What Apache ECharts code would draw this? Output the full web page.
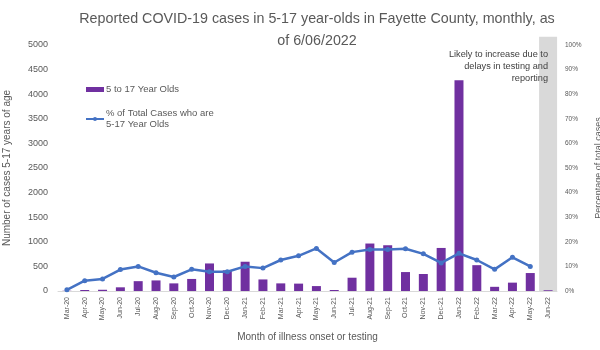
<!DOCTYPE html>
<html>
<head>
<meta charset="utf-8">
<script src="https://cdn.jsdelivr.net/npm/echarts@6/dist/echarts.min.js"></script>
<style>html,body{margin:0;padding:0;background:#fff}#c{width:600px;height:350px}</style>
</head>
<body>
<div id="c"></div>
<script>
const categories = ['Mar-20','Apr-20','May-20','Jun-20','Jul-20','Aug-20','Sep-20','Oct-20','Nov-20','Dec-20','Jan-21','Feb-21','Mar-21','Apr-21','May-21','Jun-21','Jul-21','Aug-21','Sep-21','Oct-21','Nov-21','Dec-21','Jan-22','Feb-22','Mar-22','Apr-22','May-22','Jun-22'];
const cases5to17 = [5,20,25,75,200,215,155,245,560,420,595,235,155,150,100,20,270,965,930,385,345,875,4285,525,85,170,365,15];
const pctOfTotal = [0.5,4.2,4.9,8.7,10.0,7.4,5.7,8.8,7.8,7.8,10.0,9.3,12.6,14.3,17.3,11.6,15.8,16.9,16.9,17.2,15.1,11.4,15.3,12.6,8.8,13.7,10.0,null];
const pendingMonths = ['Jun-22'];
const leftTicks = {min:0, max:5000, interval:500};
const rightTicks = {min:0, max:100, interval:10};

const FONT = 'Liberation Sans';
const GREY = '#595959';
const BAND_TOP = 5170;

const chart = echarts.init(document.getElementById('c'), null, {renderer:'canvas'});
chart.setOption({
  animation:false,
  textStyle:{fontFamily:FONT},
  title:{
    text:'Reported COVID-19 cases in 5-17 year-olds in Fayette County, monthly, as\nof 6/06/2022',
    left:312, top:3, textAlign:'center',
    textStyle:{fontFamily:FONT, fontSize:14.3, fontWeight:'normal', color:GREY, lineHeight:22}
  },
  legend:{
    orient:'vertical', left:85, top:84, padding:0, itemGap:13, itemWidth:18, itemHeight:5,
    textStyle:{fontFamily:FONT, fontSize:9.5, color:GREY, lineHeight:11, padding:[0,0,0,-3]},
    data:[{name:'5 to 17 Year Olds', icon:'rect'}, {name:'% of Total Cases who are\n5-17 Year Olds'}]
  },
  grid:{left:58, right:43, top:45, bottom:59, containLabel:false, outerBoundsMode:'none'},
  xAxis:[{
    type:'category', data:categories, boundaryGap:true,
    axisLine:{show:true, lineStyle:{color:'#d9d9d9', width:1}},
    axisTick:{show:false},
    axisLabel:{interval:0, rotate:90, fontSize:7, color:GREY, margin:6, fontFamily:FONT},
    name:'Month of illness onset or testing', nameLocation:'middle', nameGap:41,
    nameTextStyle:{fontSize:10, color:GREY, fontFamily:FONT},
    splitLine:{show:false}
  },{
    type:'category', data:categories, show:false, gridIndex:0, position:'bottom'
  }],
  yAxis:[{
    type:'value', min:leftTicks.min, max:leftTicks.max, interval:leftTicks.interval,
    axisLine:{show:false}, axisTick:{show:false}, splitLine:{show:false},
    axisLabel:{fontSize:9, color:GREY, margin:10, fontFamily:FONT, formatter:v => String(v)},
    name:'Number of cases 5-17 years of age', nameLocation:'middle', nameGap:46, nameRotate:90,
    nameTextStyle:{fontSize:10, color:GREY, fontFamily:FONT}
  },{
    type:'value', min:rightTicks.min, max:rightTicks.max, interval:rightTicks.interval, position:'right',
    axisLine:{show:false}, axisTick:{show:false}, splitLine:{show:false},
    axisLabel:{fontSize:6.5, color:GREY, margin:8, formatter:'{value}%', fontFamily:FONT},
    name:'Percentage of total cases', nameLocation:'middle', nameGap:37, nameRotate:90,
    nameTextStyle:{fontSize:9, color:GREY, fontFamily:FONT}
  }],
  series:[{
    name:'pending', type:'bar', xAxisIndex:1, yAxisIndex:0, barWidth:18, clip:false, silent:true, z:0,
    itemStyle:{color:'#d9d9d9'},
    data:categories.map(c => pendingMonths.includes(c) ? BAND_TOP : null)
  },{
    name:'5 to 17 Year Olds', type:'bar', xAxisIndex:0, yAxisIndex:0, barWidth:9, z:2,
    itemStyle:{color:'#7030A0'},
    data:cases5to17
  },{
    name:'% of Total Cases who are\n5-17 Year Olds', type:'line', xAxisIndex:0, yAxisIndex:1, z:3,
    symbol:'circle', symbolSize:5, connectNulls:false,
    lineStyle:{color:'#4472C4', width:2.5}, itemStyle:{color:'#4472C4'},
    data:pctOfTotal
  }],
  graphic:[{
    type:'text', x:548, y:48, z:100,
    style:{text:'Likely to increase due to\ndelays in testing and\nreporting', align:'right', textAlign:'right', verticalAlign:'top', font:'9.2px "Liberation Sans"', fill:'#404040', lineHeight:12.3}
  }]
});
</script>
</body>
</html>
